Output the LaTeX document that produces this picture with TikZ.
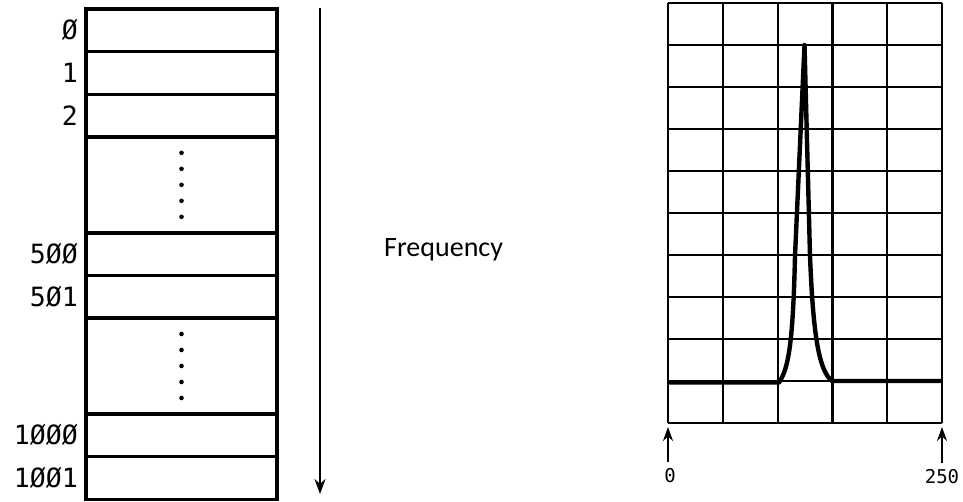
\documentclass[tikz,border=0pt]{standalone}
\usepackage{fontspec}
\usepackage{tikz}
\usetikzlibrary{positioning,arrows.meta}
\newfontfamily\idxfont{DejaVu Sans Mono}
\newfontfamily\freqfont{Carlito}
\begin{document}
\begin{tikzpicture}[
        x=1pt, y=-1pt,
        cell/.style={draw, line width=3.4pt, minimum width=191pt,
                     minimum height=42.6pt, inner sep=0pt, outer sep=0pt},
        gap/.style={cell, minimum height=96pt},
        idx/.style={font=\idxfont\fontsize{26.5}{30}\selectfont, inner sep=0pt},
        endlabel/.style={font=\idxfont\fontsize{19}{22}\selectfont, inner sep=1pt},
        gridline/.style={line width=2.2pt},
        trace/.style={line width=4.4pt, line join=round},
        endarrow/.style={-{Stealth[length=14pt,width=10pt]}, line width=1.8pt,
                         shorten <=6pt, shorten >=4pt}
      ]
        \useasboundingbox (0,0) rectangle (963,501);
        \node[cell, anchor=north west] (r0) at (86,9) {};
        \node[cell, below=0pt of r0] (r1) {};
        \node[cell, below=0pt of r1] (r2) {};
        \node[gap,  below=0pt of r2] (rg1) {};
        \node[cell, below=0pt of rg1] (r500) {};
        \node[cell, below=0pt of r500] (r501) {};
        \node[gap,  below=0pt of r501] (rg2) {};
        \node[cell, below=0pt of rg2] (r1000) {};
        \node[cell, below=0pt of r1000] (r1001) {};
        \foreach \d in {-32,-16,0,16,32} {
          \fill ([yshift=\d pt]rg1.center) circle (2.3pt);
          \fill ([yshift=\d pt]rg2.center) circle (2.3pt);
        }
        \node[idx, left=8pt of r0] (l0) {Ø};
        \node[idx, left=8pt of r1] (l1) {1};
        \node[idx, left=8pt of r2] (l2) {2};
        \node[idx, left=8pt of r500] (l500) {5ØØ};
        \node[idx, left=8pt of r501] (l501) {5Ø1};
        \node[idx, left=8pt of r1000] (l1000) {1ØØØ};
        \node[idx, left=8pt of r1001] (l1001) {1ØØ1};
        \coordinate (ftop) at (320,8);
        \coordinate (fbot) at (320,494);
        \draw[-{Stealth[length=15pt,width=11pt]}, line width=2pt] (ftop) -- (fbot);
        \node[font=\freqfont\fontsize{28}{32}\selectfont, inner sep=0pt, anchor=base west]
          (freq) at (384,256) {Frequency};
        \foreach \i in {0,...,5}
          \draw[gridline] (668+\i*54.8,3) -- (668+\i*54.8,423);
        \foreach \j in {0,...,10}
          \draw[gridline] (668,3+\j*42) -- (942,3+\j*42);
        \coordinate (g0) at (668,423);
        \coordinate (g5) at (942,423);
        \draw[trace] (668,382.5) -- (779,382.5) .. controls (789,368) and (793,340) .. (795,256)
          -- (804.5,45) -- (810,256) .. controls (813,330) and (818,370) .. (832,381) -- (942,381);
        \node[endlabel] (zero) at (670,476) {0};
        \node[endlabel] (top) at (942,477) {250};
        \draw[endarrow] (zero.north -| g0) -- (g0);
        \draw[endarrow] (top.north -| g5) -- (g5);
      \end{tikzpicture}
\end{document}
